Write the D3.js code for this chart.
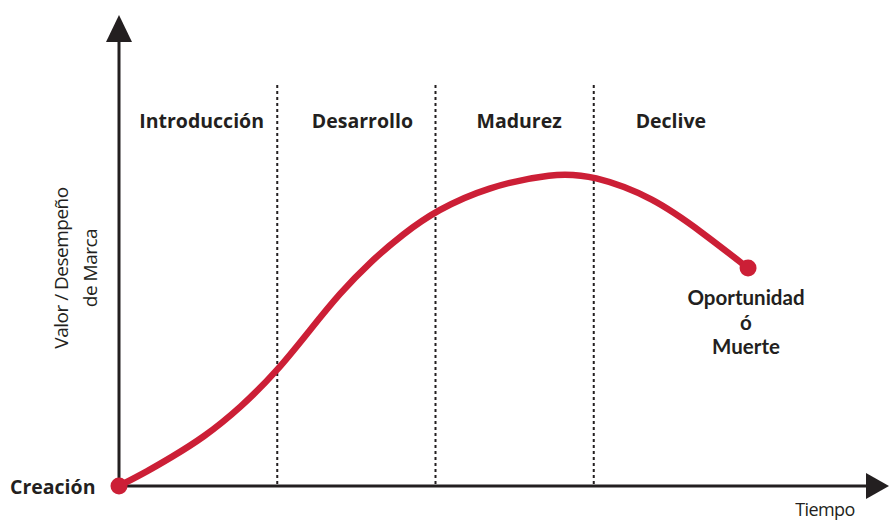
<!DOCTYPE html>
<html><head><meta charset="utf-8">
<script src="https://cdn.jsdelivr.net/npm/d3@7"></script>
<style>html,body{margin:0;padding:0;background:#fff}svg{display:block}</style>
</head><body>
<svg id="chart" width="889" height="521"></svg>
<script>
const phases = ["Introducción", "Desarrollo", "Madurez", "Declive"];
const phaseBounds = [1, 2, 3];
const curveTime = [0, 0.183, 0.322, 0.531, 0.77, 1.005, 1.207, 1.397, 1.586, 1.795, 2.009, 2.325, 2.743, 2.995, 3.374, 3.690, 3.975];
const curveValue = [0, 4.8, 8.9, 15.3, 25.0, 36.9, 49.7, 61.5, 71.3, 80.3, 87.9, 95.2, 99.7, 99.0, 92.0, 80.6, 69.4];
const startLabel = "Creación";
const endLabel = ["Oportunidad", "ó", "Muerte"];
const xTitle = "Tiempo";
const yTitle = ["Valor / Desempeño", "de Marca"];

const svg = d3.select("#chart");
const font = "'Open Sans', sans-serif";
const ink = "#231f20";
const red = "#cc1f36";
const labelShift = [3.5, 6, 4.5, -2];

const x = d3.scaleLinear().domain([0, 4]).range([119, 752]);
const y = d3.scaleLinear().domain([0, 100]).range([486, 172]);

// dashed phase dividers
svg.selectAll("line.div").data(phaseBounds).join("line")
  .attr("x1", d => x(d)).attr("x2", d => x(d))
  .attr("y1", 85).attr("y2", y(0))
  .attr("stroke", ink).attr("stroke-width", 2)
  .attr("stroke-dasharray", "3,3");

// phase labels
svg.selectAll("text.phase").data(phases).join("text")
  .attr("x", (d, i) => x(i + 0.5) + labelShift[i])
  .attr("y", 128)
  .attr("text-anchor", "middle")
  .attr("font-family", font).attr("font-weight", 700)
  .attr("font-size", 19.5).attr("fill", ink)
  .text(d => d);

// axes
svg.append("line").attr("x1", x(0)).attr("x2", 872).attr("y1", y(0)).attr("y2", y(0))
  .attr("stroke", ink).attr("stroke-width", 3);
svg.append("line").attr("x1", x(0)).attr("x2", x(0)).attr("y1", y(0)).attr("y2", 38)
  .attr("stroke", ink).attr("stroke-width", 3);
svg.append("path").attr("d", `M${x(0)},15 L${x(0) + 13},42 L${x(0) - 13},42 Z`).attr("fill", ink);
svg.append("path").attr("d", `M889,${y(0)} L866,${y(0) - 13} L866,${y(0) + 13} Z`).attr("fill", ink);

// curve
const pts = curveTime.map((t, i) => [t, curveValue[i]]);
const line = d3.line().x(d => x(d[0])).y(d => y(d[1])).curve(d3.curveBasis);
svg.append("path").attr("d", line(pts)).attr("fill", "none")
  .attr("stroke", red).attr("stroke-width", 6.5).attr("stroke-linecap", "round");
svg.selectAll("circle.end").data([pts[0], pts[pts.length - 1]]).join("circle")
  .attr("cx", d => x(d[0])).attr("cy", d => y(d[1])).attr("r", 8.5).attr("fill", red);

// labels
svg.append("text").attr("x", 10).attr("y", 494)
  .attr("font-family", font).attr("font-weight", 700).attr("font-size", 19.5).attr("fill", ink)
  .text(startLabel);
svg.selectAll("text.endl").data(endLabel).join("text")
  .attr("x", 746).attr("y", (d, i) => 305 + i * 24.5)
  .attr("text-anchor", "middle")
  .attr("font-family", "Lato, 'Open Sans', sans-serif").attr("font-weight", 700)
  .attr("font-size", 20.5).attr("fill", ink)
  .text(d => d);
svg.append("text").attr("x", 825).attr("y", 516).attr("text-anchor", "middle")
  .attr("font-family", font).attr("font-size", 18).attr("letter-spacing", -0.6).attr("fill", ink)
  .text(xTitle);
svg.selectAll("text.yt").data(yTitle).join("text")
  .attr("transform", (d, i) => `translate(${68 + i * 29},268) rotate(-90)`)
  .attr("text-anchor", "middle")
  .attr("font-family", font).attr("font-size", 19).attr("letter-spacing", -0.5).attr("fill", ink)
  .text(d => d);
</script>
</body></html>
